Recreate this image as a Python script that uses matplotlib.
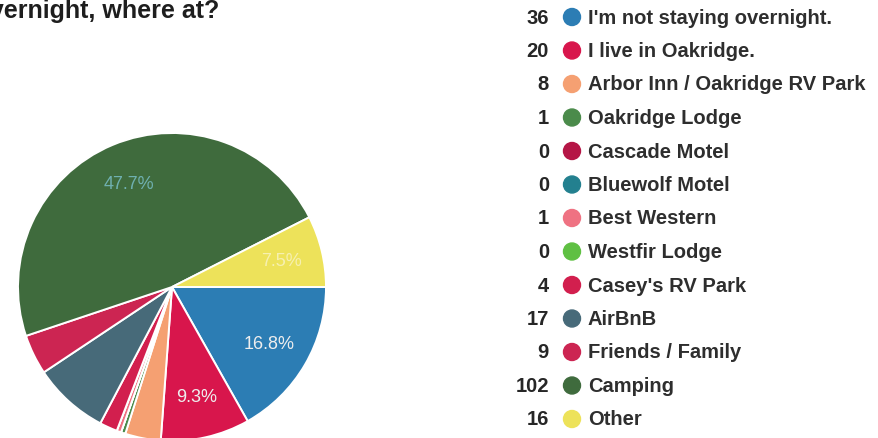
import matplotlib
matplotlib.use("Agg")
import matplotlib.pyplot as plt
import numpy as np

# respostas: onde o visitante passa a noite
opcoes = ["I'm not staying overnight.", "I live in Oakridge.", "Arbor Inn / Oakridge RV Park",
          "Oakridge Lodge", "Cascade Motel", "Bluewolf Motel", "Best Western", "Westfir Lodge",
          "Casey's RV Park", "AirBnB", "Friends / Family", "Camping", "Other"]
contagens = [36, 20, 8, 1, 0, 0, 1, 0, 4, 17, 9, 102, 16]
cores = ["#2c7db4", "#d8164c", "#f5a072", "#4b8b4b", "#b51646", "#23808f", "#ef7282",
         "#5fc043", "#d21f4e", "#476a79", "#cc2552", "#3f6b3d", "#ede25a"]
# so estas fatias recebem o percentual escrito
mostra_pct = ["I'm not staying overnight.", "I live in Oakridge.", "Camping", "Other"]
cor_pct = {"Camping": "#6fb0b0", "Other": "#f6f0b0"}

W, H = 879, 439
fig = plt.figure(figsize=(W / 100, H / 100), dpi=100)
fig.patch.set_facecolor("white")

# titulo cortado na borda esquerda
fig.text(219 / W, 1 - 18 / H, "If staying overnight, where at?", ha="right", va="baseline",
         fontsize=18, fontweight="heavy", family="Liberation Sans", color="#1e1e1e")

# pizza: centro (172, 288) px, raio 154 px
cx, cy, r = 172, 288, 154
ax = fig.add_axes([(cx - r) / W, (H - cy - r) / H, 2 * r / W, 2 * r / H])
ax.axis("off")

vals = np.array(contagens, dtype=float)
wedges, _ = ax.pie(vals, colors=cores, startangle=0, counterclock=False, radius=1,
                   wedgeprops=dict(edgecolor="white", linewidth=1.4))
ax.set_xlim(-1, 1)
ax.set_ylim(-1, 1)
ax.set_aspect("equal")
for w, nome, v in zip(wedges, opcoes, vals):
    w.set_clip_on(False)
    if nome not in mostra_pct:
        continue
    ang = np.deg2rad((w.theta1 + w.theta2) / 2)
    ax.text(0.73 * np.cos(ang), 0.73 * np.sin(ang), f"{v / vals.sum() * 100:.1f}%",
            ha="center", va="center", fontsize=13, family="Liberation Sans",
            color=cor_pct.get(nome, "#eeeeee"))

# legenda: contagem, bolinha e rotulo
y0, passo = 18, 33.5
for i, (nome, n, c) in enumerate(zip(opcoes, contagens, cores)):
    y = 1 - (y0 + i * passo) / H
    fig.text(549 / W, y, str(n), ha="right", va="center", fontsize=14.5,
             fontweight="bold", family="Liberation Sans", color="#262626")
    fig.text(588 / W, y, nome, ha="left", va="center", fontsize=14.5,
             fontweight="bold", family="Liberation Sans", color="#2e2e2e")
    fig.add_artist(matplotlib.patches.Ellipse((572 / W, y), 17 / W, 17 / H, color=c,
                                              transform=fig.transFigure))

fig.savefig("out.png", dpi=100, facecolor="white")
